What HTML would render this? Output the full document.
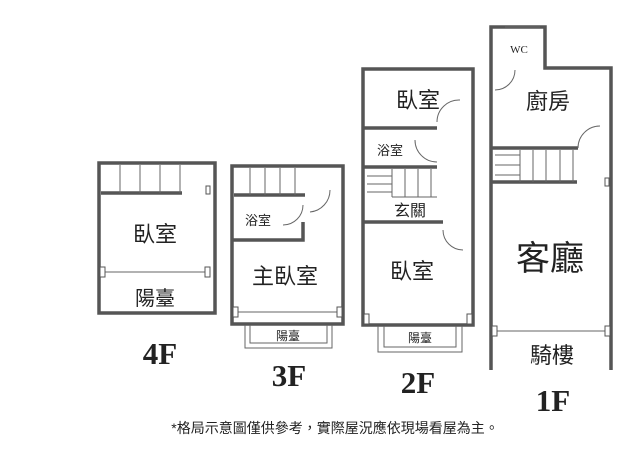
<!DOCTYPE html><html><head><style>body{margin:0;background:#fff}svg{display:block}text{font-family:"Liberation Sans","Noto Sans CJK TC",sans-serif;fill:#222}.s{font-family:"Liberation Serif","Noto Serif CJK SC",serif}</style></head><body>
<svg width="640" height="461" viewBox="0 0 640 461">
<g fill="none" stroke="#555" stroke-width="3.5">
<rect x="99" y="163" width="116" height="150"/>
<rect x="232" y="166" width="111" height="158"/>
<path d="M233 240H303V222"/>
<rect x="363" y="69" width="110" height="256"/>
<path d="M363 128H437M363 167H437M363 222H443"/>
<path d="M491 355V27H545V68H611V370M491 355V370M491 148H578M491 182H577"/>
<path d="M101 193H182M234 195H305"/>
</g>
<g fill="none" stroke="#666" stroke-width="1">
<path d="M120 165V193M140 165V193M160 165V193M180 165V193M250 168V195M265 168V195M280 168V195M295 168V195"/>
<path d="M392 169V197M405 169V197M418 169V197M431 169V197M367 176H392M367 184H392M367 192H392M392 197H437"/>
<path d="M520 150V182M533 150V182M546 150V182M560 150V182M573 150V182M495 155H520M495 165H520M495 175H520"/>
<path d="M104 272H208M237 312H340M496 331H607"/>
<path d="M245 325V348H332V325M250 325V343H327V325M378 326V352H462V326M384 326V347H456V326"/>
<path d="M303 205A20 20 0 0 1 283 225M330 190A22 22 0 0 1 310 212M437 122A22 22 0 0 1 460 100M415 140A22 22 0 0 0 437 162M443 230A20 20 0 0 0 463 250M495 90A20 20 0 0 0 515 70M578 148A22 22 0 0 1 600 126M505 27H540"/>
</g>
<g fill="#fff" stroke="#555" stroke-width="1"><rect x="100" y="267" width="5" height="10"/><rect x="205" y="267" width="5" height="10"/><rect x="233" y="307" width="5" height="10"/><rect x="337" y="307" width="5" height="10"/><rect x="364" y="314" width="5" height="10"/><rect x="467" y="314" width="5" height="10"/><rect x="492" y="326" width="5" height="10"/><rect x="605" y="326" width="5" height="10"/><rect x="605" y="178" width="4" height="8"/><rect x="206" y="186" width="4" height="8"/></g>
<g text-anchor="middle">
<text x="155" y="242" font-size="22">臥室</text><text x="155" y="305" font-size="20">陽臺</text>
<text x="258" y="225" font-size="13">浴室</text><text x="285" y="284" font-size="22">主臥室</text><text x="288" y="340" font-size="12">陽臺</text>
<text x="418" y="108" font-size="22">臥室</text><text x="390" y="155" font-size="13">浴室</text><text x="410" y="216" font-size="16">玄關</text><text x="412" y="279" font-size="22">臥室</text><text x="420" y="342" font-size="12">陽臺</text>
<text class="s" x="519" y="53" font-size="11">WC</text><text x="548" y="109" font-size="22">廚房</text><text x="550" y="270" font-size="34">客廳</text><text x="552" y="363" font-size="22">騎樓</text>
<text class="s" x="160" y="364" font-size="31" font-weight="bold">4F</text><text class="s" x="289" y="386" font-size="31" font-weight="bold">3F</text><text class="s" x="418" y="393" font-size="31" font-weight="bold">2F</text><text class="s" x="553" y="411" font-size="31" font-weight="bold">1F</text>
<text x="335" y="433" font-size="14">*格局示意圖僅供參考，實際屋況應依現場看屋為主。</text>
</g>
</svg></body></html>
